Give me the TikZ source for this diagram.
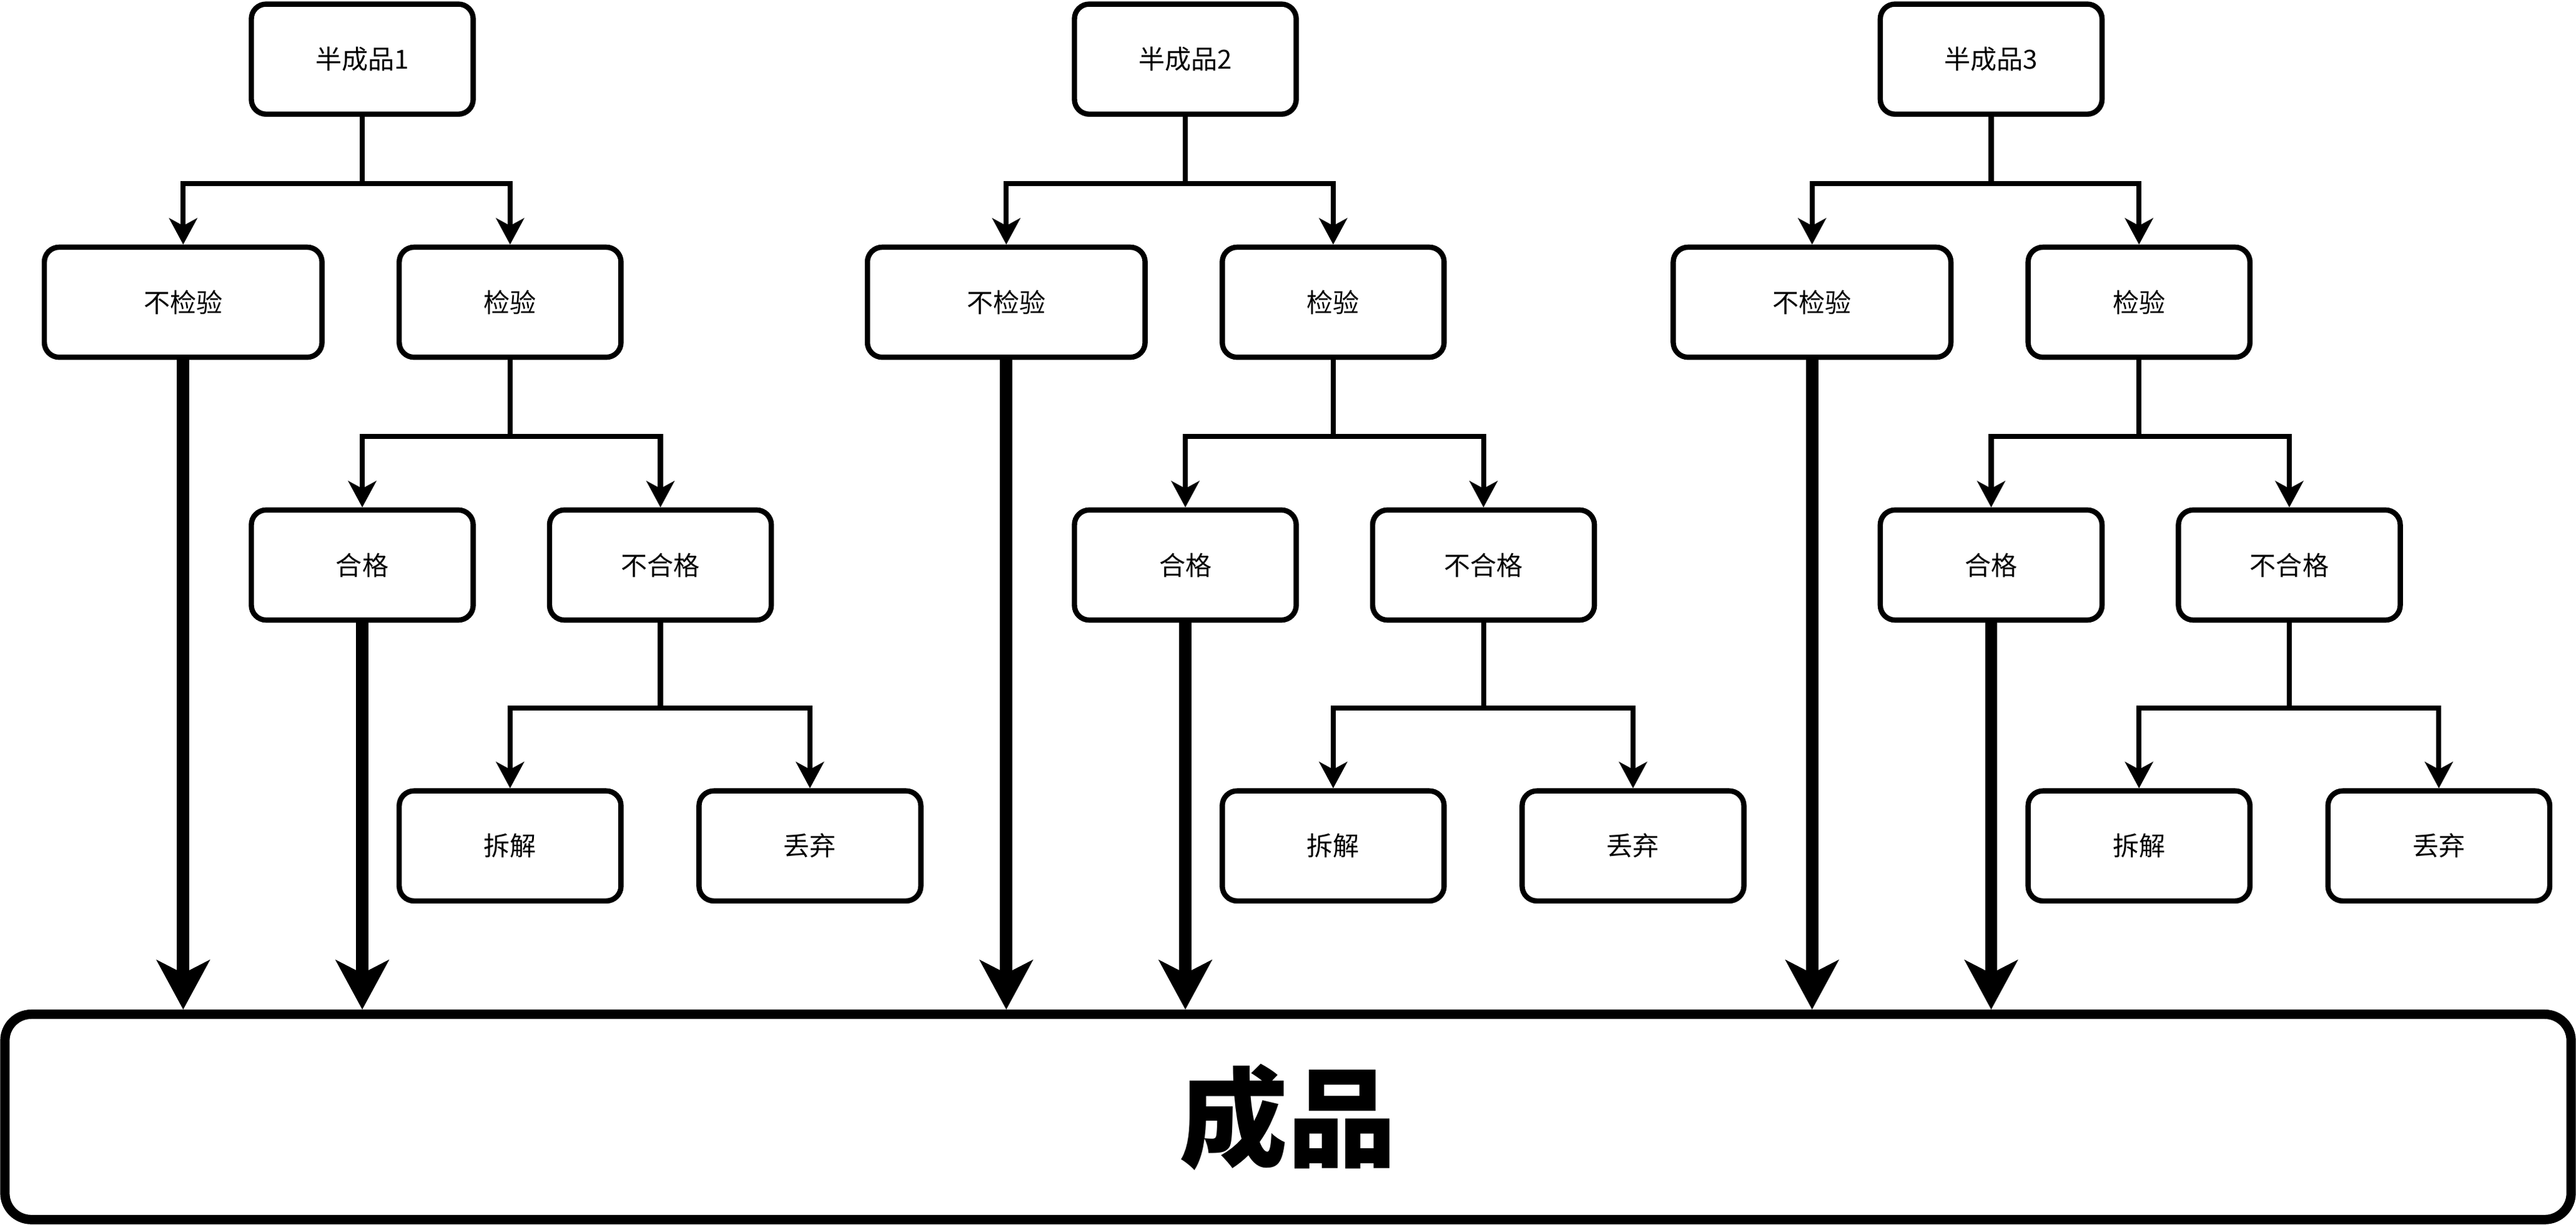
\documentclass[tikz,border=0pt]{standalone}
\usepackage{fontspec}
\setmainfont{Noto Sans CJK SC}
\usetikzlibrary{arrows.meta}
\tikzset{
  caja/.style={draw, line width=3.2pt, rounded corners=9pt, minimum width=135pt, minimum height=67pt, inner sep=0pt, font=\fontsize{16}{19}\selectfont},
  cajaancha/.style={caja, minimum width=169pt},
  flecha/.style={line width=3.1pt, -{Stealth[length=16pt, width=17pt, inset=4.5pt]}},
  flechagrande/.style={line width=7.6pt, -{Stealth[length=30pt, width=32pt, inset=8pt]}}
}
\begin{document}
\begin{tikzpicture}[x=1pt, y=-1pt]
    \useasboundingbox (0,0) rectangle (1568,745.8);
    % Producto final
    \node[draw, line width=5.7pt, rounded corners=16pt, minimum width=1562pt, minimum height=125pt, inner sep=0pt,
          font=\fontsize{66}{70}\selectfont\bfseries] (prod) at (784,680) {成品};
    % Cada semiproducto con su arbol
    \foreach \g/\dx in {1/0, 2/501, 3/991.5} {
        \node[caja] (semi\g) at (220.5+\dx,36) {半成品\g};
        \node[cajaancha] (noinsp\g) at (111.5+\dx,184) {不检验};
        \node[caja] (insp\g) at (310.5+\dx,184) {检验};
        \node[caja] (ok\g) at (220.5+\dx,344) {合格};
        \node[caja] (nok\g) at (402+\dx,344) {不合格};
        \node[caja] (desm\g) at (310.5+\dx,515) {拆解};
        \node[caja] (desc\g) at (493+\dx,515) {丢弃};
        % Ramas
        \draw[flecha] (semi\g.south) -- ++(0,40.5) -| (noinsp\g.north);
        \draw[flecha] (semi\g.south) -- ++(0,40.5) -| (insp\g.north);
        \draw[flecha] (insp\g.south) -- ++(0,46.5) -| (ok\g.north);
        \draw[flecha] (insp\g.south) -- ++(0,46.5) -| (nok\g.north);
        \draw[flecha] (nok\g.south) -- ++(0,52) -| (desm\g.north);
        \draw[flecha] (nok\g.south) -- ++(0,52) -| (desc\g.north);
        % Hacia el producto final
        \draw[flechagrande] (noinsp\g.south) -- (noinsp\g.south |- prod.north);
        \draw[flechagrande] (ok\g.south) -- (ok\g.south |- prod.north);
    }
\end{tikzpicture}
\end{document}
